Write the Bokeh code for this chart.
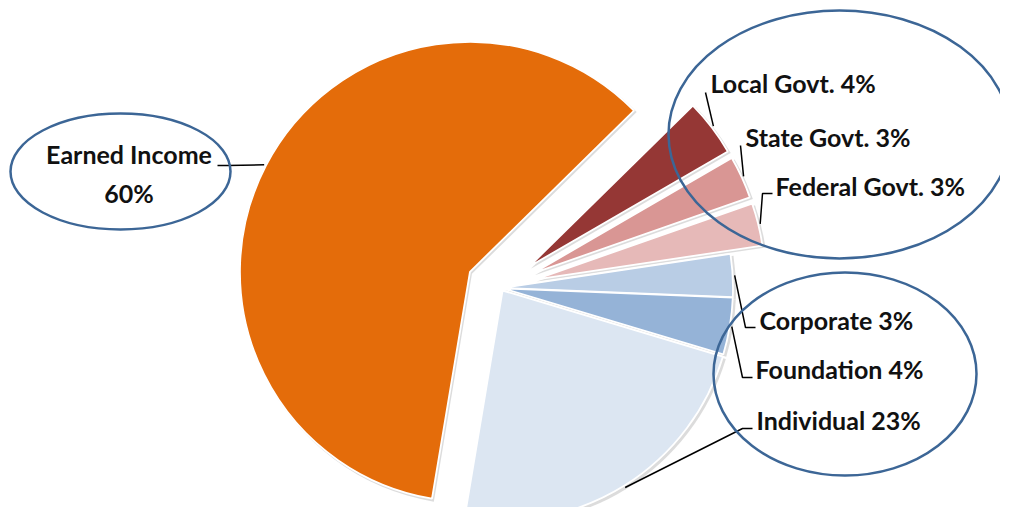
import math
from bokeh.plotting import figure
from bokeh.models import Range1d
from bokeh.embed import file_html
from bokeh.resources import INLINE
from bokeh.core.properties import value

# ---------------- data (clockwise from the first slice angle) ----------------
categories = ["Local Govt.", "State Govt.", "Federal Govt.", "Corporate",
              "Foundation", "Individual", "Earned Income"]
percents = [4, 3, 3, 3, 4, 23, 60]
colors = ["#953735", "#D99694", "#E6B9B8", "#B9CDE5", "#95B3D7", "#DCE6F2", "#E46C0A"]
labels = ["Local Govt. 4%", "State Govt. 3%", "Federal Govt. 3%", "Corporate 3%",
          "Foundation 4%", "Individual 23%", "Earned Income\n60%"]

# ---------------- layout (reference pixel coordinates) ----------------
H = 523                      # y data = H - pixel row
W_FIG, H_FIG = 1000, 507
CX, CY = 500.5, H - 287.5    # pie centre
R = 230                      # pie radius
START = 44.5                 # first slice angle (degrees, maths convention)
explode = [35, 35, 35, 2, 2, 3, 35]

# label anchors: (x, y, align) and leader elbow points (pixel coords)
label_pos = [(710, 82.5, "left"), (745, 136, "left"), (775, 185.5, "left"),
             (759, 319, "left"), (755, 368.5, "left"), (756, 419, "left"),
             (128.5, 172.5, "center")]
leader_pts = [[(705, 92)], [(740, 145)], [(762, 193), (772, 193)],
              [(745, 327), (755, 327)], [(742, 377), (752, 377)],
              [(742, 428), (752, 428)], [(227, 165), (217, 165)]]
ellipses = [(120, 171, 220, 116), (839, 134, 342, 248), (844.5, 373.5, 263, 203)]

ELL_COLOR = "#3C6696"
FONT = "Lato"

p = figure(width=W_FIG, height=H_FIG, output_backend="svg", toolbar_location=None,
           x_range=Range1d(0, W_FIG), y_range=Range1d(H - H_FIG, H),
           min_border=0, outline_line_color=None, background_fill_color="white")
p.axis.visible = False
p.grid.visible = False

# geometry of each slice
xs, ys, a0s, a1s, mids = [], [], [], [], []
cum = 0.0
for pct, e in zip(percents, explode):
    top = START - cum * 3.6
    bot = top - pct * 3.6
    mid = math.radians((top + bot) / 2)
    cum += pct
    xs.append(CX + e * math.cos(mid))
    ys.append(CY + e * math.sin(mid))
    a0 = bot % 360
    a1 = top % 360
    if a1 <= a0:
        a1 += 360
    a0s.append(math.radians(a0))
    a1s.append(math.radians(a1))
    mids.append(mid)

# soft shadow
p.wedge(x=[x + 2 for x in xs], y=[y - 2 for y in ys], radius=R + 1,
        start_angle=a0s, end_angle=a1s, fill_color="#9A9A9A", fill_alpha=0.35,
        line_color=None)
# slices
p.wedge(x=xs, y=ys, radius=R, start_angle=a0s, end_angle=a1s,
        fill_color=colors, line_color="white", line_width=1.8)

# leader lines
for i in range(len(categories)):
    ax = xs[i] + (R + 2) * math.cos(mids[i])
    ay = ys[i] + (R + 2) * math.sin(mids[i])
    lx = [ax] + [q[0] for q in leader_pts[i]]
    ly = [ay] + [H - q[1] for q in leader_pts[i]]
    p.line(lx, ly, line_color="black", line_width=1.5)

# ellipses
for ex, ey, ew, eh in ellipses:
    p.ellipse(x=[ex], y=[H - ey], width=[ew], height=[eh], fill_color=None,
              line_color=ELL_COLOR, line_width=2.5)

# labels
for txt, (tx, ty, al) in zip(labels, label_pos):
    p.text(x=[tx], y=[H - ty], text=[txt], text_align=al, text_baseline="middle",
           text_font=value(FONT), text_font_style="bold", text_font_size="25px",
           text_color="#111111", text_line_height=1.3)

open("out.html", "w").write(file_html(p, INLINE))
